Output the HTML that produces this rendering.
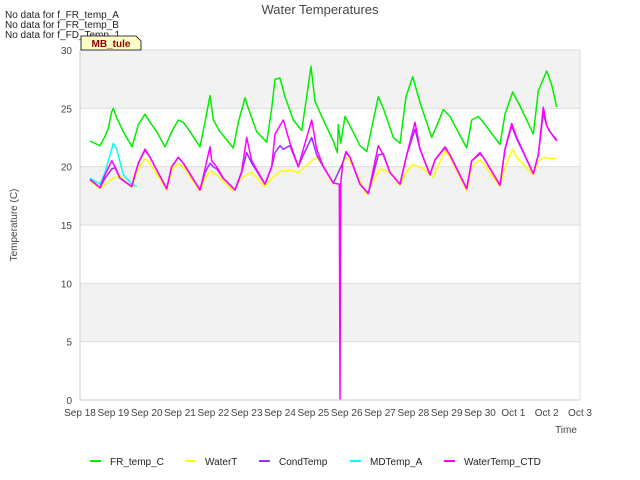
<!DOCTYPE html>
<html><head><meta charset="utf-8"><style>
body{margin:0;background:#fff;}
svg{display:block;font-family:"Liberation Sans","DejaVu Sans",sans-serif;}
</style></head><body>
<svg id="chart" width="640" height="480" viewBox="0 0 640 480" xmlns="http://www.w3.org/2000/svg">
<rect width="640" height="480" fill="#fff"/>
<g id="bands"></g>
<g id="grid"></g>
<g id="series"></g>
<g id="axes"></g>
<text x="320" y="14" text-anchor="middle" font-size="13" fill="#444">Water Temperatures</text>
<text transform="translate(17,225) rotate(-90)" text-anchor="middle" font-size="10" fill="#444">Temperature (C)</text>
<text x="566" y="433" text-anchor="middle" font-size="10" fill="#444">Time</text>
<g font-size="10" fill="#222">
<text x="5" y="18">No data for f_FR_temp_A</text>
<text x="5" y="28">No data for f_FR_temp_B</text>
<text x="5" y="38">No data for f_FD_Temp_1</text>
</g>
<g>
<path d="M81,36 L136,36 L141,41 L141,50 L81,50 Z" fill="#ffffc8" stroke="#000" stroke-width="0.8"/>
<text x="111" y="47" text-anchor="middle" font-size="10" font-weight="bold" fill="#8b0000">MB_tule</text>
</g>
<g id="legend" font-size="10" fill="#222"></g>
</svg>
<script>
const xTicks=["Sep 18","Sep 19","Sep 20","Sep 21","Sep 22","Sep 23","Sep 24","Sep 25","Sep 26","Sep 27","Sep 28","Sep 29","Sep 30","Oct 1","Oct 2","Oct 3"];
const yTicks=[0,5,10,15,20,25,30];
const greenT=[0.3,0.6,0.75,0.85,0.95,1.0,1.1,1.3,1.56,1.75,1.95,2.1,2.3,2.55,2.75,2.95,3.1,3.3,3.6,3.75,3.9,4.0,4.2,4.6,4.75,4.95,5.05,5.3,5.6,5.75,5.85,6.0,6.15,6.4,6.65,6.8,6.93,7.05,7.3,7.6,7.72,7.75,7.82,7.95,8.1,8.4,8.6,8.95,9.1,9.4,9.6,9.78,9.98,10.2,10.55,10.7,10.9,11.1,11.6,11.75,11.95,12.1,12.6,12.75,12.98,13.2,13.6,13.75,14.0,14.15,14.3];
const greenV=[22.2,21.8,22.6,23.3,24.7,25.0,24.2,23.0,21.7,23.6,24.5,23.8,23.0,21.7,23.0,24.0,23.8,23.0,21.7,23.8,26.1,24.0,23.0,21.6,23.8,25.9,25.0,23.0,22.1,25.0,27.5,27.6,26.0,24.0,23.1,26.0,28.6,25.6,24.0,22.2,21.2,23.6,22.0,24.3,23.5,21.8,21.3,26.0,25.0,22.5,22.0,26.0,27.7,25.5,22.5,23.5,24.9,24.3,21.6,24.0,24.3,23.8,21.9,24.5,26.4,25.2,22.8,26.5,28.2,27.0,25.1];
const ctdT=[0.3,0.6,0.75,0.95,1.05,1.2,1.55,1.75,1.95,2.1,2.6,2.75,2.95,3.1,3.6,3.75,3.9,3.95,4.1,4.3,4.65,4.85,5.0,5.15,5.55,5.75,5.85,6.1,6.3,6.55,6.7,6.95,7.1,7.3,7.6,7.78,7.8,7.82,7.88,7.98,8.1,8.4,8.65,8.95,9.1,9.3,9.6,9.8,10.05,10.2,10.5,10.65,10.95,11.1,11.6,11.75,12.0,12.1,12.6,12.75,12.95,13.1,13.6,13.75,13.9,14.0,14.1,14.3];
const ctdV=[18.9,18.2,19.3,20.5,20.0,19.0,18.3,20.3,21.5,20.8,18.1,20.0,20.8,20.3,18.0,19.8,21.7,20.5,20.0,19.0,18.0,19.6,22.5,20.5,18.5,20.0,22.8,24.0,22.0,20.0,21.5,24.0,21.5,20.0,18.6,18.5,0,18.5,20.3,21.3,20.8,18.5,17.7,21.8,21.0,19.5,18.5,21.0,23.8,21.5,19.3,20.6,21.7,21.0,18.1,20.5,21.2,20.8,18.4,21.5,23.7,22.5,19.4,21.0,25.1,23.5,23.0,22.2];
const condT=[0.3,0.6,0.75,0.95,1.05,1.2,1.55,1.75,1.95,2.1,2.6,2.75,2.95,3.1,3.6,3.75,3.9,4.0,4.1,4.3,4.65,4.85,5.0,5.15,5.55,5.75,5.85,6.0,6.1,6.3,6.55,6.7,6.95,7.1,7.3,7.6,7.88,7.98,8.1,8.4,8.65,8.95,9.1,9.3,9.6,9.8,10.05,10.2,10.5,10.65,10.95,11.1,11.6,11.75,12.0,12.1,12.6,12.75,12.95,13.1,13.6,13.75,13.9,14.0,14.1,14.3];
const condV=[18.9,18.2,19.0,19.8,19.9,19.0,18.3,20.3,21.4,20.8,18.1,20.0,20.8,20.3,18.0,19.5,20.3,20.0,19.8,19.0,18.0,19.5,21.2,20.3,18.5,20.0,21.2,21.8,21.5,21.8,20.0,21.0,22.5,21.0,20.0,18.6,20.3,21.2,20.8,18.5,17.7,21.0,21.1,19.5,18.5,21.0,23.2,21.5,19.3,20.6,21.6,21.0,18.1,20.5,21.1,20.8,18.4,21.5,23.5,22.4,19.4,21.0,24.6,23.5,23.0,22.3];
const watT=[0.3,0.6,0.75,1.0,1.2,1.55,1.75,1.95,2.1,2.6,2.75,2.95,3.1,3.6,3.75,3.9,4.1,4.6,4.8,5.0,5.15,5.55,5.75,6.0,6.3,6.55,6.95,7.1,7.3,7.6,7.85,7.98,8.1,8.6,8.8,9.0,9.3,9.6,9.8,10.0,10.3,10.6,10.95,11.1,11.6,11.75,12.0,12.1,12.6,12.75,12.98,13.1,13.6,13.75,13.95,14.1,14.3];
const watV=[18.8,18.1,18.5,19.0,19.2,18.2,19.8,20.7,20.3,18.0,19.7,20.3,20.0,17.9,19.0,19.6,19.3,17.9,18.9,19.3,19.5,18.3,19.0,19.6,19.7,19.5,20.5,20.8,20.0,18.5,20.2,20.8,20.5,17.6,18.8,19.8,19.5,18.4,19.6,20.2,19.8,19.1,21.4,20.8,17.9,20.0,20.6,20.3,18.3,20.0,21.5,20.8,19.3,20.5,20.8,20.7,20.7];
const mdT=[0.3,0.6,0.75,0.9,1.0,1.1,1.3,1.55,1.7];
const mdV=[19.0,18.5,19.5,21.0,22.0,21.5,19.3,18.5,18.3];

const NS="http://www.w3.org/2000/svg";
const L=80,R=580,T=50,B=400;
function xs(d){return L+(R-L)*d/15;}
function ys(v){return B-(B-T)*v/30;}
function mk(tag,attrs,parent){const e=document.createElementNS(NS,tag);for(const k in attrs)e.setAttribute(k,attrs[k]);parent.appendChild(e);return e;}
const bands=document.getElementById('bands'),grid=document.getElementById('grid'),axes=document.getElementById('axes'),series=document.getElementById('series'),legend=document.getElementById('legend');
for(let i=0;i<yTicks.length-1;i++){
  const lo=yTicks[i],hi=yTicks[i+1];
  const b=mk('rect',{x:L,y:ys(hi),width:R-L,height:ys(lo)-ys(hi),fill:(i%2===1)?'#f2f2f2':'#ffffff'},bands);
  
  
}
yTicks.forEach(v=>{
  const g=mk('line',{x1:L,x2:R,y1:ys(v),y2:ys(v),stroke:'#dcdcdc','stroke-width':1},grid);
  
  
  const t=mk('text',{x:L-8,y:ys(v)+4,'text-anchor':'end','font-size':10,fill:'#444'},axes);
  t.textContent=v;
  
  
});
mk('line',{x1:L,x2:L,y1:T,y2:B,stroke:'#ccc'},axes);
mk('line',{x1:R,x2:R,y1:T,y2:B,stroke:'#ddd'},axes);
mk('line',{x1:L,x2:R,y1:B,y2:B,stroke:'#ccc'},axes);
xTicks.forEach((s,i)=>{
  const t=mk('text',{x:xs(i),y:B+16,'text-anchor':'middle','font-size':10,fill:'#444'},axes);
  t.textContent=s;
  
  
});
function line(ts,vs,color,name){
  const pts=ts.map((t,i)=>xs(t).toFixed(1)+','+ys(vs[i]).toFixed(1)).join(' ');
  const p=mk('polyline',{points:pts,fill:'none',stroke:color,'stroke-width':1.5,'stroke-linejoin':'round'},series);
  
  
}
line(greenT,greenV,'#00ee00','fr-temp-c-line');
line(watT,watV,'#ffff00','watert-line');
line(mdT,mdV,'#00ffff','mdtemp-a-line');
line(condT,condV,'#9b30ff','condtemp-line');
line(ctdT,ctdV,'#ff00ff','watertemp-ctd-line');
const legNames=["FR_temp_C","WaterT","CondTemp","MDTemp_A","WaterTemp_CTD"];
const legColors=['#00ee00','#ffff00','#9b30ff','#00ffff','#ff00ff'];
const legX=[90,185,259,350,444];
legNames.forEach((n,i)=>{
  const g=mk('g',{},legend);
  
  
  mk('line',{x1:legX[i],x2:legX[i]+11,y1:461,y2:461,stroke:legColors[i],'stroke-width':2},g);
  const t=mk('text',{x:legX[i]+20,y:465},g);
  t.textContent=n;
});
</script>
</body></html>
